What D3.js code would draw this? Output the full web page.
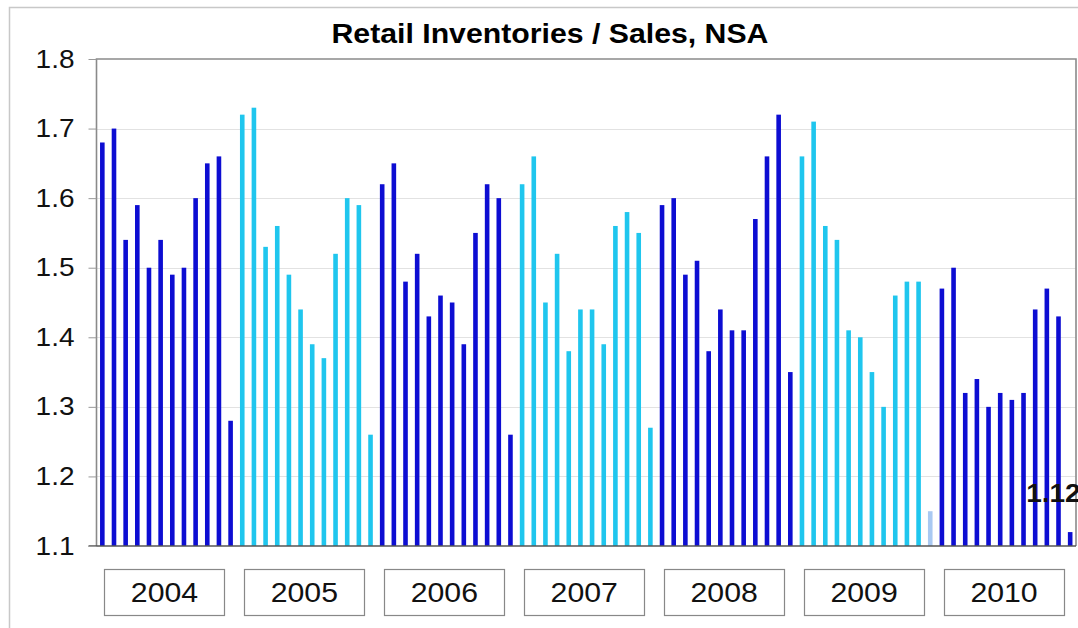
<!DOCTYPE html>
<html>
<head>
<meta charset="utf-8">
<script src="https://cdn.jsdelivr.net/npm/d3@7"></script>
<style>
  html, body { margin: 0; padding: 0; background: #fff; }
  svg { display: block; font-family: Arial, "Liberation Sans", sans-serif; }
</style>
</head>
<body>
<svg id="chart" width="1078" height="628"></svg>
<script>
const title = "Retail Inventories / Sales, NSA";
const years = ["2004", "2005", "2006", "2007", "2008", "2009", "2010"];
const months = ["Jan","Feb","Mar","Apr","May","Jun","Jul","Aug","Sep","Oct","Nov","Dec"];
const v2004 = [1.68, 1.70, 1.54, 1.59, 1.50, 1.54, 1.49, 1.50, 1.60, 1.65, 1.66, 1.28];
const v2005 = [1.72, 1.73, 1.53, 1.56, 1.49, 1.44, 1.39, 1.37, 1.52, 1.60, 1.59, 1.26];
const v2006 = [1.62, 1.65, 1.48, 1.52, 1.43, 1.46, 1.45, 1.39, 1.55, 1.62, 1.60, 1.26];
const v2007 = [1.62, 1.66, 1.45, 1.52, 1.38, 1.44, 1.44, 1.39, 1.56, 1.58, 1.55, 1.27];
const v2008 = [1.59, 1.60, 1.49, 1.51, 1.38, 1.44, 1.41, 1.41, 1.57, 1.66, 1.72, 1.35];
const v2009 = [1.66, 1.71, 1.56, 1.54, 1.41, 1.40, 1.35, 1.30, 1.46, 1.48, 1.48, 1.15];
const v2010 = [1.47, 1.50, 1.32, 1.34, 1.30, 1.32, 1.31, 1.32, 1.44, 1.47, 1.43, 1.12];
const yTicks = [1.1, 1.2, 1.3, 1.4, 1.5, 1.6, 1.7, 1.8];
const highlighted = ["2009-Dec"];
const lastLabel = "1.12";

(function () {
const series = [v2004, v2005, v2006, v2007, v2008, v2009, v2010];
const data = [];
years.forEach((yr, i) => months.forEach((m, j) => data.push({ key: yr + "-" + m, year: yr, yi: i, value: series[i][j] })));

const svg = d3.select("#chart");
const pLeft = 96.5, pRight = 1076, pTop = 59, pBottom = 546;
const stretch = 1.12;

const x = d3.scaleBand().domain(data.map(d => d.key)).range([pLeft, pRight]).paddingInner(0).paddingOuter(0);
const xYear = d3.scaleBand().domain(years).range([pLeft, pRight]);
const y = d3.scaleLinear().domain([1.1, 1.8]).range([pBottom, pTop]);

// outer border
svg.append("path").attr("d", `M9.5,628 V7.5 H1078`).attr("fill", "none").attr("stroke", "#c8c8c8").attr("stroke-width", 1.5);

// gridlines
svg.append("g").selectAll("line").data(yTicks.filter(t => t > 1.1 && t < 1.8)).join("line")
  .attr("x1", pLeft).attr("x2", pRight).attr("y1", d => Math.round(y(d)) + 0.5).attr("y2", d => Math.round(y(d)) + 0.5)
  .attr("stroke", "#e2e2e2").attr("stroke-width", 1);

// bars
const barW = 4.6;
svg.append("g").selectAll("rect").data(data).join("rect")
  .attr("x", d => x(d.key) + x.bandwidth() / 2 - barW / 2)
  .attr("width", barW)
  .attr("y", d => y(d.value))
  .attr("height", d => y(1.1) - y(d.value))
  .attr("fill", d => highlighted.includes(d.key) ? "#a9c9f2" : (d.yi % 2 === 0 ? "#0d0dd2" : "#1fc6ee"));

// frame
svg.append("path").attr("d", `M${pLeft},${pBottom} V${pTop} H${pRight} V${pBottom}`).attr("fill", "none").attr("stroke", "#8a8a8a").attr("stroke-width", 1.6);
svg.append("line").attr("x1", pLeft - 8).attr("x2", pRight).attr("y1", pBottom).attr("y2", pBottom).attr("stroke", "#555").attr("stroke-width", 1.4);

// y axis
const yAxis = d3.axisLeft(y).tickValues(yTicks).tickFormat(d3.format(".1f")).tickSize(8).tickPadding(14);
const ga = svg.append("g").attr("transform", `translate(${pLeft},0)`).call(yAxis);
ga.select(".domain").remove();
ga.selectAll(".tick line").attr("stroke", "#999");
ga.selectAll(".tick text").attr("font-size", 25).attr("fill", "#111").attr("font-family", "Arial, 'Liberation Sans', sans-serif")
  .each(function() { const w = this.getComputedTextLength(); d3.select(this).attr("textLength", w * stretch).attr("lengthAdjust", "spacingAndGlyphs"); });

// title
const t = svg.append("text").attr("x", 550).attr("y", 43).attr("text-anchor", "middle")
  .attr("font-size", 27).attr("font-weight", "bold").attr("fill", "#000").text(title);
t.attr("textLength", t.node().getComputedTextLength() * stretch).attr("lengthAdjust", "spacingAndGlyphs");

// year boxes
const gy = svg.append("g");
years.forEach(yr => {
  const cx = xYear(yr) + xYear.bandwidth() / 2 - 2;
  gy.append("rect").attr("x", Math.round(cx - 60) + 0.5).attr("y", 569.5).attr("width", 120).attr("height", 46)
    .attr("fill", "#fff").attr("stroke", "#888").attr("stroke-width", 1.2);
  const tt = gy.append("text").attr("x", cx).attr("y", 602).attr("text-anchor", "middle").attr("font-size", 27).attr("fill", "#111").text(yr);
  tt.attr("textLength", tt.node().getComputedTextLength() * stretch).attr("lengthAdjust", "spacingAndGlyphs");
});

// last value label
const last = data[data.length - 1];
const lt = svg.append("text").attr("x", x(last.key) + x.bandwidth() / 2 - 44).attr("y", y(last.value) - 30)
  .attr("font-size", 25).attr("font-weight", "bold").attr("fill", "#111").text(lastLabel);
lt.attr("textLength", lt.node().getComputedTextLength() * stretch).attr("lengthAdjust", "spacingAndGlyphs");
})();
</script>
</body>
</html>
